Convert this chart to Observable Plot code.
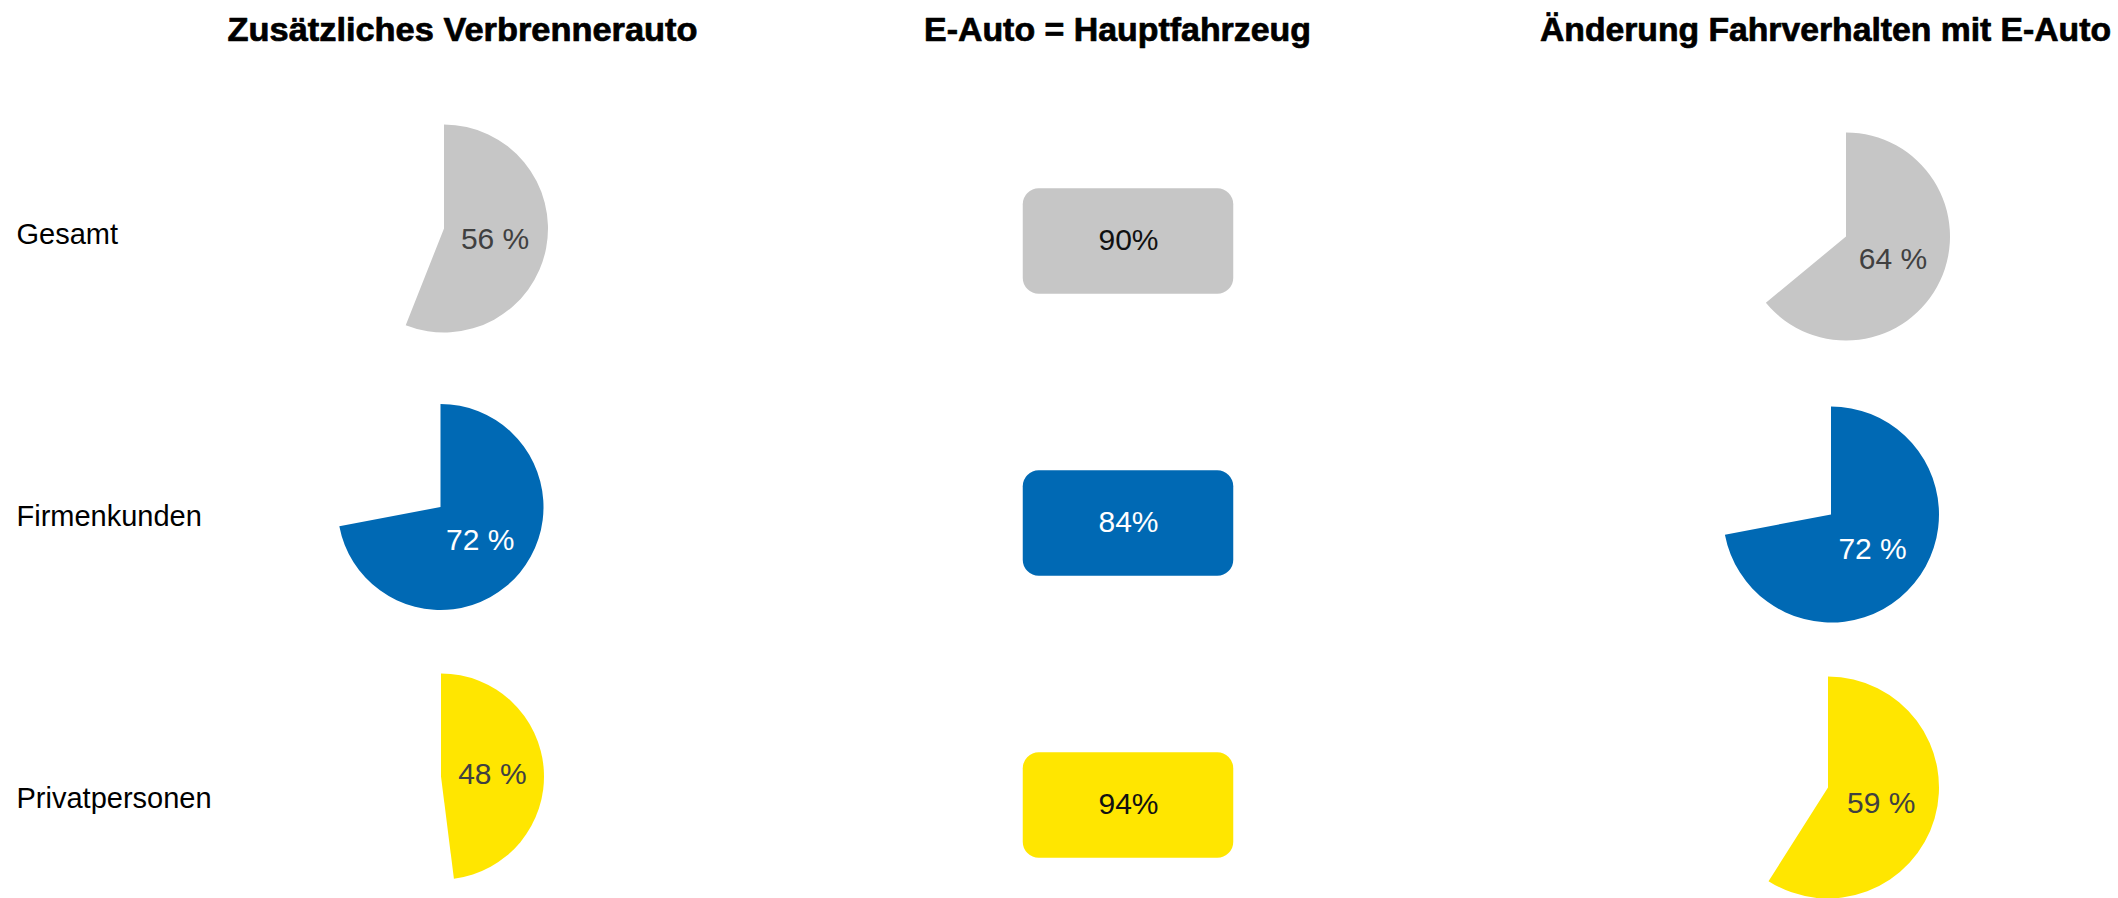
<!DOCTYPE html>
<html>
<head>
<meta charset="utf-8">
<script src="https://cdn.jsdelivr.net/npm/d3@7"></script>
<script src="https://cdn.jsdelivr.net/npm/@observablehq/plot@0.6"></script>
<style>
  html, body { margin: 0; padding: 0; background: #fff; }
</style>
</head>
<body>
<div id="chart"></div>
<script>
// ---------- data ----------
const rows = ["Gesamt", "Firmenkunden", "Privatpersonen"];
const columns = ["Zusätzliches Verbrennerauto", "E-Auto = Hauptfahrzeug", "Änderung Fahrverhalten mit E-Auto"];
const zusaetzlichesVerbrennerauto = [56, 72, 48];   // % (pie)
const eAutoHauptfahrzeug = [90, 84, 94];            // % (box)
const aenderungFahrverhalten = [64, 72, 59];        // % (pie)

// ---------- styles / layout ----------
const W = 2118, H = 898;
const rowColors = ["#c6c6c6", "#0069b4", "#ffe600"];
const darkText = "#404040";
const titleFont = "'Liberation Sans', Arial, sans-serif";
const bodyFont = "'Liberation Sans', Arial, sans-serif";
const titleNudge = [19, -22, -10];
const titleWidth = [470, 387, 571];
// per pie: [dx, dy, radius]
const pieNudge = {
  [columns[0]]: [[1, -8.5, 104], [-2.5, -12, 103], [-2, -24.5, 103]],
  [columns[2]]: [[11, -0.5, 104], [-4, -4.5, 108], [-7, -13.5, 111]]
};

// ---------- tables built from the arrays ----------
const pies = [
  ...rows.map((row, i) => ({column: columns[0], row, value: zusaetzlichesVerbrennerauto[i]})),
  ...rows.map((row, i) => ({column: columns[2], row, value: aenderungFahrverhalten[i]}))
];
const boxes = rows.map((row, i) => ({column: columns[1], row, value: eAutoHauptfahrzeug[i]}));

function pieMark(data) {
  return (index, scales) => {
    const g = d3.create("svg:g");
    const bx = scales.x.bandwidth ? scales.x.bandwidth() / 2 : 0;
    const by = scales.y.bandwidth ? scales.y.bandwidth() / 2 : 0;
    for (const d of data) {
      const [dx, dy, r] = pieNudge[d.column][rows.indexOf(d.row)];
      const cx = scales.x(d.column) + bx + dx;
      const cy = scales.y(d.row) + by + dy;
      const arc = d3.arc().innerRadius(0).outerRadius(r)
        .startAngle(0).endAngle(d.value / 100 * 2 * Math.PI);
      const fill = scales.color ? scales.color(d.row) : rowColors[rows.indexOf(d.row)];
      const pg = g.append("g").attr("transform", `translate(${cx},${cy})`);
      pg.append("path").attr("d", arc()).attr("fill", fill);
      const [lx, ly] = arc.centroid();
      pg.append("text")
        .attr("x", lx).attr("y", ly).attr("dy", "0.35em")
        .attr("text-anchor", "middle")
        .attr("font-family", bodyFont)
        .attr("font-size", 30)
        .attr("fill", d.row === "Firmenkunden" ? "#ffffff" : darkText)
        .text(`${d.value} %`);
    }
    return g.node();
  };
}

const plot = Plot.plot({
  width: W,
  height: H,
  margin: 0,
  style: {background: "#fff", fontFamily: bodyFont},
  x: {type: "band", domain: columns, range: [93.75, 2183.25], padding: 0, axis: null},
  y: {type: "band", domain: rows, range: [94.75, 942.25], padding: 0, axis: null},
  color: {type: "ordinal", domain: rows, range: rowColors},
  marks: [
    // column titles
    ...columns.map((c, i) => Plot.text([c], {
      x: d => d, text: d => d,
      frameAnchor: "top", lineAnchor: "bottom", dy: 40, dx: titleNudge[i],
      fontFamily: titleFont, fontWeight: "bold", fontSize: 32.5,
      fill: "#000", stroke: "#000", strokeWidth: 0.7
    })),
    // row labels
    Plot.text(rows, {
      y: d => d, text: d => d,
      frameAnchor: "left", textAnchor: "start", dx: 16, dy: -3,
      fontFamily: bodyFont, fontSize: 29, fill: "#000"
    }),
    // middle column: rounded boxes
    Plot.cell(boxes, {
      x: "column", y: "row", fill: "row", rx: 16,
      insetLeft: 231.75, insetRight: 253.75, insetTop: 92.25, insetBottom: 84.25
    }),
    Plot.text(boxes, {
      filter: d => d.row !== "Firmenkunden",
      x: "column", y: "row", text: d => `${d.value}%`,
      dx: -11, dy: 3, fontFamily: bodyFont, fontSize: 30, fill: "#111"
    }),
    Plot.text(boxes, {
      filter: d => d.row === "Firmenkunden",
      x: "column", y: "row", text: d => `${d.value}%`,
      dx: -11, dy: 3, fontFamily: bodyFont, fontSize: 30, fill: "#ffffff"
    }),
    // pies
    pieMark(pies)
  ]
});

// fit the titles to the reference widths
plot.querySelectorAll("text").forEach(t => {
  const i = columns.indexOf(t.textContent);
  if (i >= 0) {
    t.setAttribute("textLength", titleWidth[i]);
    t.setAttribute("lengthAdjust", "spacingAndGlyphs");
  }
});

document.getElementById("chart").appendChild(plot);
</script>
</body>
</html>
